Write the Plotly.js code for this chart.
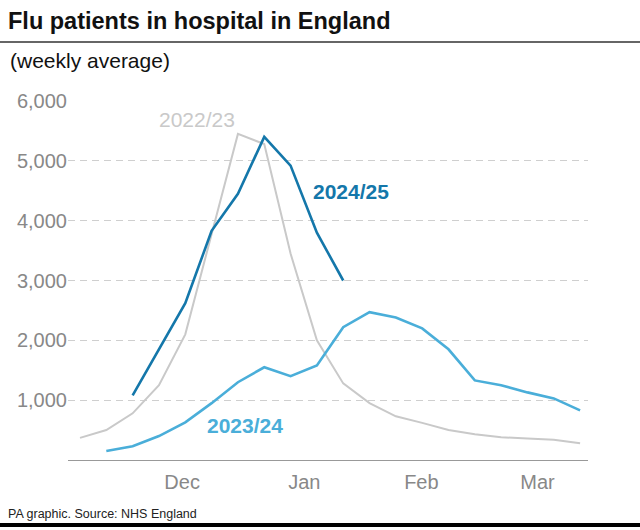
<!DOCTYPE html>
<html>
<head>
<meta charset="utf-8">
<script src="https://cdn.plot.ly/plotly-3.0.1.min.js"></script>
<style>
html,body{margin:0;padding:0;background:#fff;}
#chart{width:640px;height:530px;}
</style>
</head>
<body>
<div id="chart"></div>
<script>
// Week index (weekly averages, Nov -> Mar)
var weeks = [0,1,2,3,4,5,6,7,8,9,10,11,12,13,14,15,16,17,18,19];
var season2223 = [370, 500, 780, 1250, 2100, 3770, 5450, 5280, 3450, 2000, 1280, 950, 730, 620, 500, 430, 380, 360, 340, 280];
var season2324 = [null, 150, 230, 400, 630, 950, 1300, 1550, 1400, 1580, 2220, 2470, 2380, 2200, 1850, 1330, 1250, 1130, 1030, 830];
var season2425 = [null, null, 1080, 1850, 2620, 3830, 4450, 5400, 4920, 3800, 3000];
var monthTickPos = [3.88, 8.52, 12.97, 17.38];
var monthTickText = ['Dec', 'Jan', 'Feb', 'Mar'];
var yTicks = [1000, 2000, 3000, 4000, 5000, 6000];
var seriesNames = ['2022/23', '2023/24', '2024/25'];

var FONT = '"Helvetica Neue", "Liberation Sans", Arial, sans-serif';
var C_GREY = '#c9c9c9', C_LIGHT = '#4aaed9', C_DARK = '#1477aa';

var traces = [
  {x: weeks, y: season2223, name: seriesNames[0], mode: 'lines', line: {color: C_GREY, width: 2}},
  {x: weeks, y: season2324, name: seriesNames[1], mode: 'lines', line: {color: C_LIGHT, width: 2.6}},
  {x: weeks.slice(0, season2425.length), y: season2425, name: seriesNames[2], mode: 'lines', line: {color: C_DARK, width: 2.6}}
];

var plotL = 68, plotW = 520, plotT = 101, plotH = 359;
function px2paperX(px){ return (px - plotL) / plotW; }
function px2paperY(py){ return (plotT + plotH - py) / plotH; }

var layout = {
  width: 640, height: 530,
  margin: {l: 68, r: 52, t: 101, b: 70, pad: 0},
  paper_bgcolor: '#fff', plot_bgcolor: '#fff',
  showlegend: false,
  hovermode: false,
  font: {family: FONT, color: '#888'},
  title: {
    text: '<b>Flu patients in hospital in England</b>',
    font: {family: FONT, size: 23.5, color: '#111'},
    xref: 'container', yref: 'container',
    x: 8/640, xanchor: 'left',
    y: 1 - 21/530, yanchor: 'middle'
  },
  xaxis: {
    range: [-0.456, 19.3],
    tickvals: monthTickPos, ticktext: monthTickText,
    ticks: '', showgrid: false, zeroline: false,
    showline: true, linecolor: '#999', linewidth: 1.2,
    tickfont: {family: FONT, size: 20, color: '#888'},
    ticklabelstandoff: 4,
    fixedrange: true
  },
  yaxis: {
    range: [0, 6000],
    tickvals: yTicks, tickformat: ',',
    ticks: '', showline: false, zeroline: false,
    showgrid: true, gridcolor: '#cfcfcf', gridwidth: 1.2, griddash: '7px,5px',
    tickfont: {family: FONT, size: 20, color: '#888'},
    ticklabelstandoff: 0,
    fixedrange: true
  },
  annotations: [
    {x: 4.45, y: 5685, xref: 'x', yref: 'y', text: seriesNames[0], showarrow: false,
     font: {family: FONT, size: 21, color: C_GREY}},
    {x: 10.3, y: 4480, xref: 'x', yref: 'y', text: '<b>' + seriesNames[2] + '</b>', showarrow: false,
     font: {family: FONT, size: 21, color: C_DARK}},
    {x: 6.27, y: 585, xref: 'x', yref: 'y', text: '<b>' + seriesNames[1] + '</b>', showarrow: false,
     font: {family: FONT, size: 21, color: C_LIGHT}},
    {x: px2paperX(8), y: px2paperY(61), xref: 'paper', yref: 'paper', text: '(weekly average)', showarrow: false,
     xanchor: 'left', yanchor: 'middle', font: {family: FONT, size: 21, color: '#111'}},
    {x: px2paperX(6), y: px2paperY(514), xref: 'paper', yref: 'paper', text: 'PA graphic. Source: NHS England', showarrow: false,
     xanchor: 'left', yanchor: 'middle', font: {family: '"Liberation Sans Narrow", "Arial Narrow", ' + FONT, size: 12.5, color: '#222'}}
  ],
  shapes: [
    {type: 'line', xref: 'paper', yref: 'paper',
     x0: px2paperX(0), x1: px2paperX(640), y0: px2paperY(42), y1: px2paperY(42),
     line: {color: '#333', width: 1.5}},
    {type: 'line', xref: 'paper', yref: 'paper',
     x0: px2paperX(0), x1: px2paperX(640), y0: px2paperY(525), y1: px2paperY(525),
     line: {color: '#000', width: 4}}
  ]
};

Plotly.newPlot('chart', traces, layout, {displayModeBar: false, staticPlot: true});
</script>
</body>
</html>
